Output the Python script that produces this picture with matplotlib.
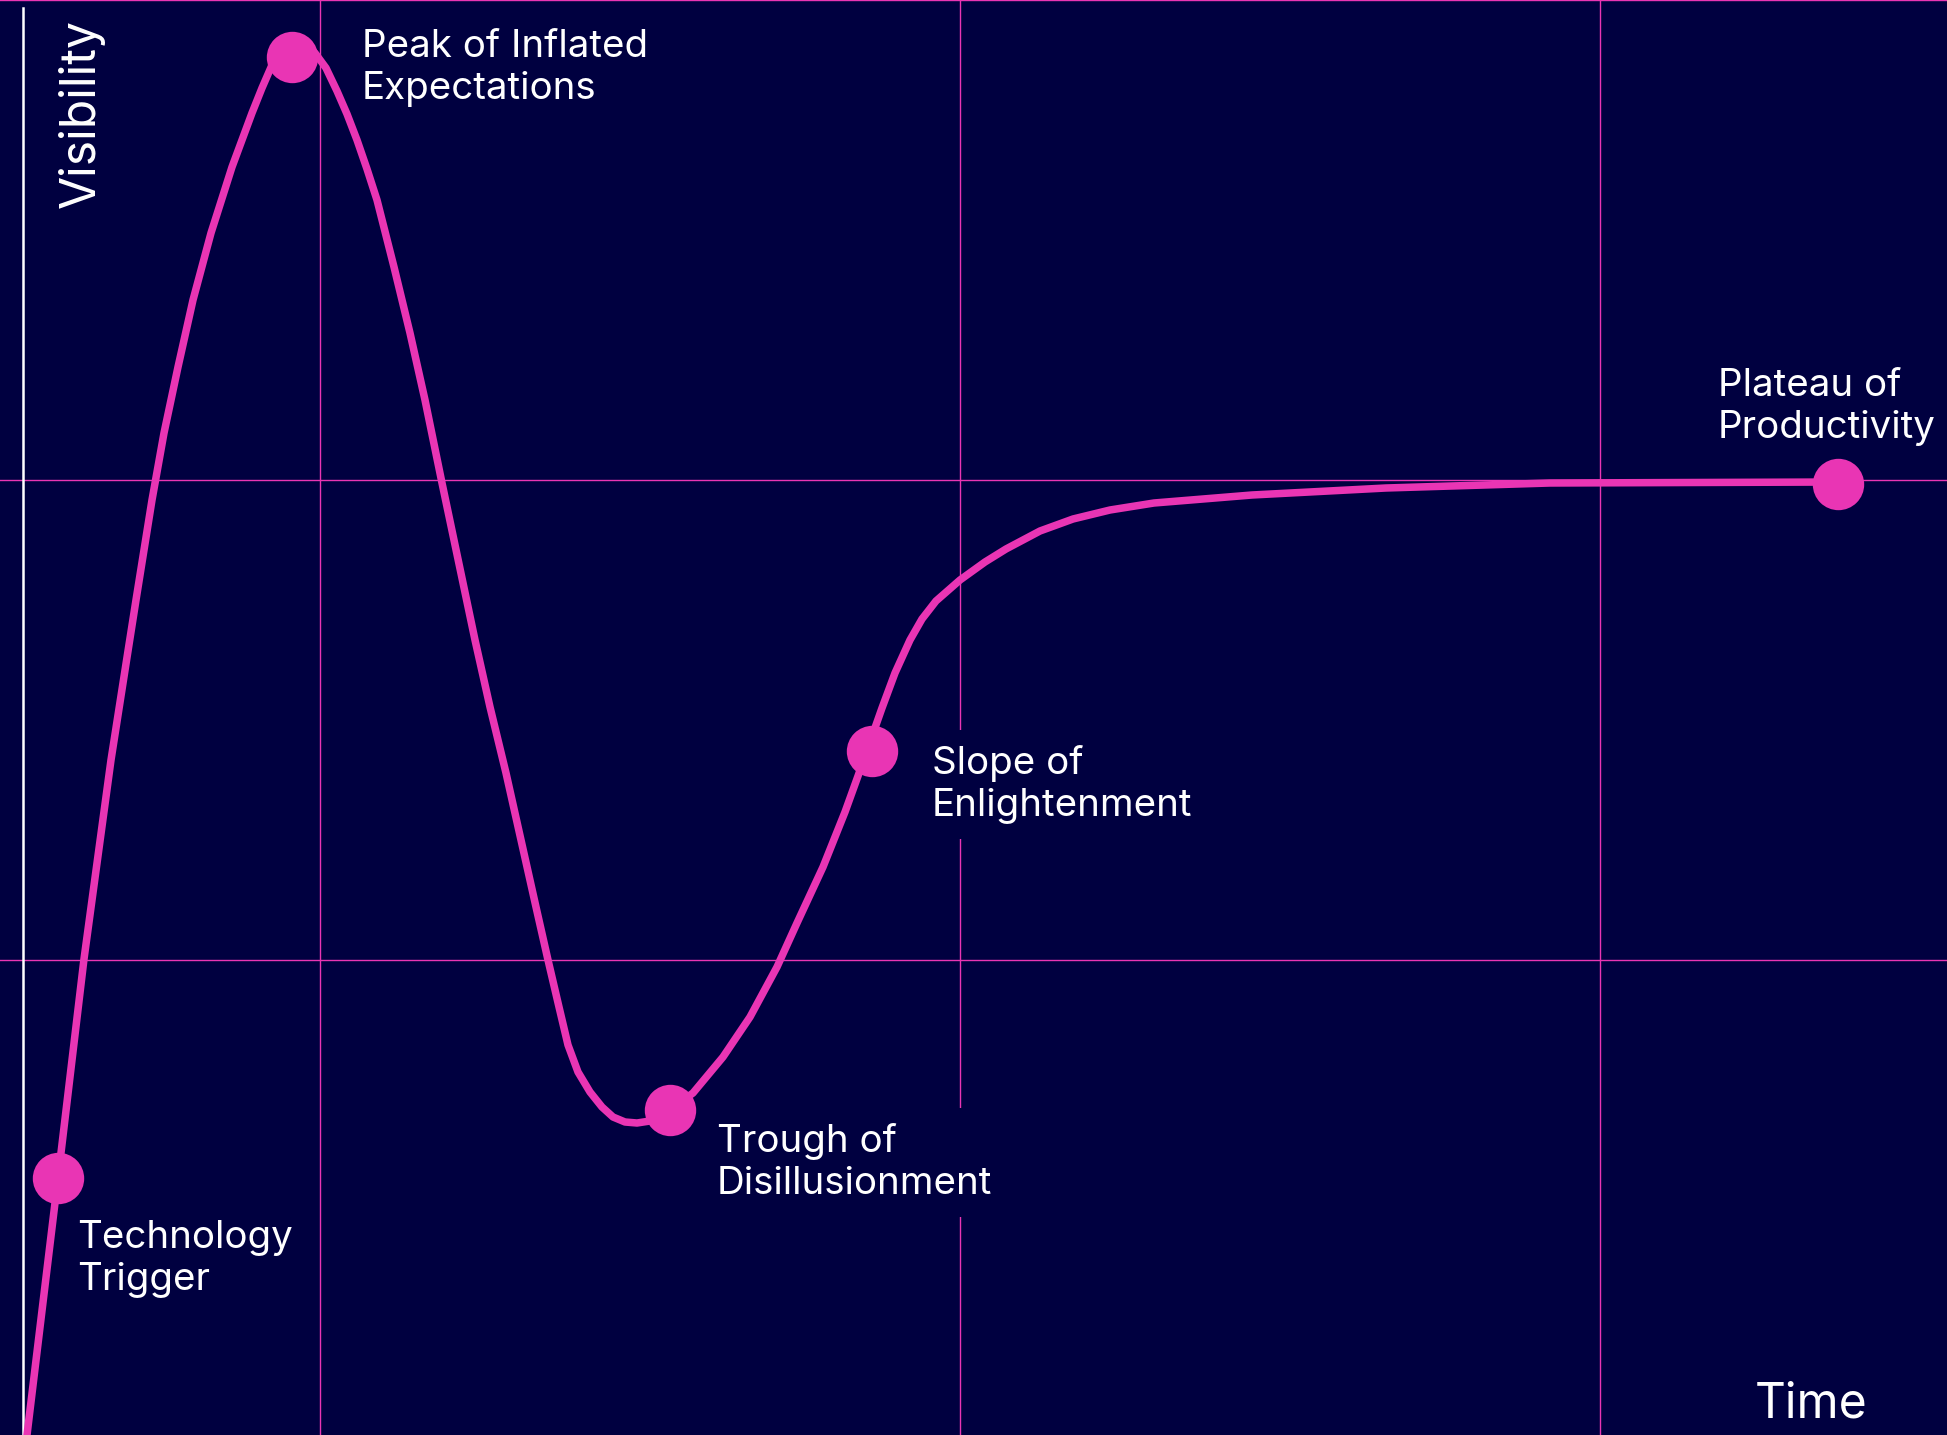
import matplotlib.pyplot as plt

# Hype cycle curve (time, visibility)
time_pts = [27, 58, 84, 111, 128, 136, 152, 164, 178, 193,
            211, 232, 252, 262, 272, 283, 292, 304, 315, 326,
            337, 347, 357, 367, 377, 394, 410, 425, 442, 475,
            490, 506, 521, 536, 548, 559, 568, 578, 590, 602,
            613, 625, 637, 650, 660, 670, 693, 723, 750, 777,
            797, 823, 845, 858, 870, 882, 895, 910, 922, 936,
            960, 985, 1006, 1040, 1073, 1110, 1154, 1252, 1386, 1550,
            1838]
vis_pts = [0, 257, 476, 675, 784, 835, 935, 1002, 1068, 1135,
           1202, 1268, 1322, 1347, 1370, 1387, 1393, 1390, 1382, 1367,
           1344, 1321, 1295, 1266, 1235, 1168, 1102, 1035, 952, 795,
           728, 662, 595, 528, 475, 428, 390, 363, 343, 328,
           318, 313, 312, 314, 318, 325, 342, 378, 418, 468,
           512, 568, 623, 659, 693, 727, 762, 795, 816, 834,
           855, 873, 886, 904, 916, 925, 932, 940, 947, 952,
           953]

# Phase markers
phase_names = ["Technology\nTrigger", "Peak of Inflated\nExpectations",
               "Trough of\nDisillusionment", "Slope of\nEnlightenment",
               "Plateau of\nProductivity"]
phase_time = [58, 292, 670, 872, 1838]
phase_vis = [257, 1378, 325, 684, 951]
label_time = [77, 362, 717, 932, 1718]
label_vis = [215, 1406, 312, 690, 1067]

grid_time = [320, 960, 1600]
grid_vis = [475, 955, 1435]

BG = "#000040"
PINK = "#E935B4"
plt.rcParams['font.family'] = ['Inter', 'DejaVu Sans']

fig = plt.figure(figsize=(19.47, 14.35), dpi=100, facecolor=BG)
ax = fig.add_axes([0, 0, 1, 1])
ax.set_facecolor(BG)
ax.set_xlim(0, 1947)
ax.set_ylim(0, 1435)
ax.axis("off")

for g in grid_time:
    ax.axvline(g, color=PINK, lw=1.0, zorder=1)
for g in grid_vis:
    ax.axhline(g, color=PINK, lw=1.0, zorder=1)

# white visibility axis
ax.plot([23, 23], [0, 1427], color="white", lw=1.8, zorder=2)

ax.plot(time_pts, vis_pts, color=PINK, lw=5.4, solid_joinstyle="round",
        solid_capstyle="round", zorder=4)
ax.plot(phase_time, phase_vis, "o", color=PINK, markersize=37, markeredgewidth=0, zorder=5)

for name, tx, ty in zip(phase_names, label_time, label_vis):
    ax.text(tx, ty, name, color="white", fontsize=27.7, ha="left", va="top",
            bbox=dict(boxstyle="square,pad=0.4", facecolor=BG, edgecolor="none"),
            zorder=3)

ax.text(1755, 17, "Time", color="white", fontsize=34.6, ha="left", va="baseline", zorder=3)
ax.text(58, 1416, "Visibility", color="white", fontsize=34.6, rotation=90,
        ha="left", va="top", zorder=3)

fig.savefig("out.png", dpi=100, facecolor=BG)
